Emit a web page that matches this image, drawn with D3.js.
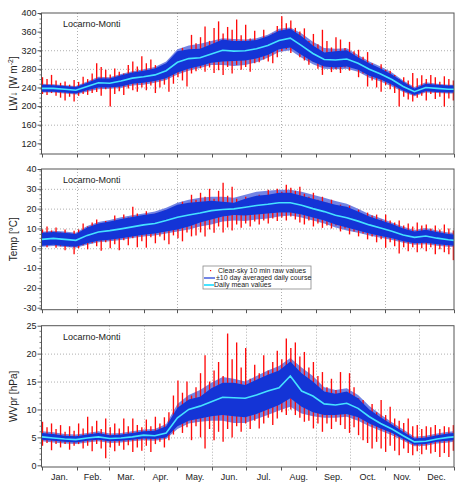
<!DOCTYPE html>
<html><head><meta charset="utf-8">
<script src="https://cdn.jsdelivr.net/npm/d3@7"></script>
<style>
body{margin:0;background:#fff;}
svg{display:block;font-family:"Liberation Sans",Arial,sans-serif;}
</style></head>
<body><svg id="c" width="474" height="484"></svg>
<script>
// ---------- categories ----------
const months = ["Jan.","Feb.","Mar.","Apr.","May.","Jun.","Jul.","Aug.","Sep.","Oct.","Nov.","Dec."];
const monthStart = [0,31,59,90,120,151,181,212,243,273,304,334,365];
const bandDays = [0,10,20,30,40,50,60,70,80,90,100,110,120,130,140,150,160,170,180,190,200,210,220,230,240,250,260,270,280,290,300,310,320,330,340,350,360,365];
const rawDays = [0,4,8,12,16,20,24,28,32,36,40,44,48,52,56,60,64,68,72,76,80,84,88,92,96,100,104,108,112,116,120,124,128,132,136,140,144,148,152,156,160,164,168,172,176,180,184,188,192,196,200,204,208,212,216,220,224,228,232,236,240,244,248,252,256,260,264,268,272,276,280,284,288,292,296,300,304,308,312,316,320,324,328,332,336,340,344,348,352,356,360,364];

// ---------- LW (top) ----------
const lwMean   = [238,238,236,234,242,250,249,254,260,263,267,276,294,302,304,312,320,318,319,323,330,341,346,330,313,300,299,301,292,279,269,257,242,231,240,238,236,236];
const lwDarkLo = [231,231,229,227,234,240,240,242,248,250,254,260,272,280,286,293,296,297,298,302,310,322,326,310,295,285,283,285,278,265,257,246,233,224,232,230,229,229];
const lwDarkHi = [246,245,243,241,250,260,259,266,272,276,281,292,318,322,323,333,343,340,340,342,350,362,366,350,330,315,318,320,305,292,281,268,252,238,248,246,244,244];
const lwLightLo= [229,229,227,225,231,236,237,239,244,246,250,256,268,276,282,288,288,286,288,294,304,316,320,304,290,280,279,280,274,261,253,242,230,221,229,228,227,227];
const lwLightHi= [248,247,245,243,253,263,262,269,275,279,284,296,322,330,334,340,346,344,343,346,353,366,369,356,338,325,323,324,310,296,285,272,255,241,251,248,246,246];
const lwRawHi  = [262,258,267,255,250,253,246,256,252,263,258,270,292,284,278,268,281,274,270,288,296,285,307,292,300,288,283,289,277,285,310,325,318,353,335,348,371,340,368,382,356,370,364,386,352,375,345,362,338,364,346,356,372,393,378,384,368,360,367,340,355,333,364,340,326,348,343,325,338,318,321,306,316,292,284,290,278,276,267,258,262,255,271,260,266,258,267,262,252,264,258,255];
const lwRawLo  = [226,224,228,222,218,212,220,210,222,226,224,228,230,222,236,199,226,232,224,238,234,231,240,234,244,228,240,246,231,248,262,255,242,270,275,281,274,283,271,277,267,284,270,288,278,284,274,292,294,300,296,292,305,318,322,314,325,305,298,289,295,280,267,285,273,279,271,283,276,282,262,270,242,255,240,231,245,236,228,199,220,214,210,218,222,212,226,215,220,199,216,212];

// ---------- Temp (middle) ----------
const tMean    = [4.5,5,4.5,4,6.5,8.2,8.9,9.8,10.8,11.8,12.5,14,15.7,16.8,17.8,19,19.6,19.9,20.7,21.6,22.2,23,23,21.7,20,18.5,16.7,15.4,13.7,11.8,10.2,8.6,6.7,5.5,6.2,5.1,4.3,4];
const tDarkLo  = [1.3,1.8,1.2,0.8,2.5,3.8,4.3,5,6,6.8,7.5,8.5,9.5,11,13,14.5,16,16.8,16.5,17,17.5,18,18,17,15.5,14,12,10.5,9,7.5,6.2,5,3.5,2.5,2.8,2,1.5,1.3];
const tDarkHi  = [7.8,8.2,7.8,7.2,10.5,12.5,13.5,14.8,15.8,16.8,17.5,19.5,22,23,23.5,24,23.5,23,25,26.5,27,28,28,26.5,25,23.5,22,21,18.5,16,14.2,12.2,10,8.5,9.4,8.2,7.2,7];
const tLightLo = [0.8,1.2,0.6,0.2,1.8,3,3.5,4.2,5.2,6,6.5,7.5,8.5,9.5,11,12,13.5,14,13.8,14.5,15,16,16.5,15.5,14,12.5,10.5,9,7.8,6.5,5.3,4.2,2.8,1.8,2,1.3,0.8,0.6];
const tLightHi = [8.3,8.8,8.4,7.8,11.2,13.3,14.3,15.6,16.6,17.6,18.5,20.5,23,24.5,25.5,26,26,25.5,27,28.5,29,29.5,29.5,28.5,27,25.5,23.8,22.5,20,17.2,15.2,13,10.8,9.2,10.2,9,8,7.8];
const tRawHi   = [9.5,11,9,10.5,8,9.5,7.5,8.8,9.5,12.5,11,13,14.5,12.5,13.8,12.8,16.5,14,17,15.5,21,17.5,16,18.7,15.5,17.5,16.5,19,17.5,18.7,21,23.5,20.5,27,24.5,28,26,30,25,29,33,26.5,31,25,24,26,23.5,25.5,27,25,29.5,27,30,28.5,32,30.5,29,31,27.5,26,28,24.5,26,23,24.5,21.5,22,19.5,21.5,18.5,19.5,17,18,16.5,17,14.5,17,14,13,14,11.5,12.5,11,13,11.5,12,10,11.5,9.5,12,10,9];
const tRawLo   = [1.5,0.5,2,0.3,1,-1,0.8,-3,0,1.5,-0.5,2.5,1,-1.3,3,0,2,-1,4,1.5,5,0.5,3.5,0.3,5.5,2.5,6,4,2,6.5,5,3.5,8,6,6.5,8,6,9.5,7.8,11,8,10.5,9,12,10.3,12.5,11,13.5,12,14,12.5,15,13.7,15.5,14,16,14.5,13,12,14,11,12.5,10.3,11.5,10,11.5,8.5,10,7,8.5,6,7.5,4.5,6,3,4.5,0.3,3,1,-2.7,0.5,-1.5,0.5,-2,0,-1.5,0.5,-3,-0.5,-2,-3,-6];

// ---------- WVpr (bottom) ----------
const wMean    = [5.1,4.9,4.7,4.6,4.9,5.1,4.8,4.9,5.1,5.4,5.3,5.8,8.5,10,10.6,11.4,12.2,12.1,12,12.6,13.3,13.9,16,13.3,12.4,11,10.8,11.1,10.2,8.7,7.5,6.5,5.3,4.2,4.3,4.7,5,5.1];
const wDarkLo  = [4.6,4.4,4.2,4.1,4.4,4.6,4.3,4.4,4.6,4.8,4.7,5,7,8,8.4,8.8,9,8.8,8.6,9.2,10,10.8,12,10.5,9.5,9,9,9.2,8.6,7.5,6.6,5.8,4.7,3.7,3.8,4.2,4.4,4.5];
const wDarkHi  = [5.8,5.6,5.3,5.2,5.5,5.8,5.4,5.5,5.8,6.1,6.2,7,10.3,11.8,12.3,13.8,14.8,14.8,14.4,15.3,16.2,17,18.6,16.5,15,13.2,12.8,13.2,12,10,8.6,7.3,6,4.8,5,5.4,5.7,5.8];
const wLightLo = [4.3,4.1,3.9,3.8,4.1,4.3,4,4.1,4.3,4.5,4.4,4.7,6.5,7.5,7.8,8,8,7.6,7.6,8.3,9,9.8,10.5,9.3,8.8,8.5,8.5,8.7,8,7,6.2,5.4,4.4,3.4,3.5,3.9,4.1,4.2];
const wLightHi = [6.1,5.9,5.6,5.5,5.8,6.1,5.7,5.8,6.1,6.4,6.5,7.4,11,12.6,13.5,14.8,15.8,15.5,15,16,17,17.8,19.2,17.5,16,14,13.5,13.8,12.6,10.6,9.1,7.7,6.4,5.1,5.3,5.7,6,6.1];
const wRawHi   = [7.8,6.8,7.5,6.5,7.2,6,7,6.2,7.5,6.6,8.7,7,8,6.5,8.4,6.8,7.5,6.6,8.4,7,8.4,7.2,6.8,8.2,7,8.7,7.5,8.6,9.5,12.5,15.2,13,15,12.5,14,16.5,19.7,15,17,18.5,16,23.6,19,22,17.5,21,15.5,18,16.5,19.7,17,18.5,20.5,19,22.7,21,22,19.5,20.3,17.5,18.5,16,16.7,14,15.5,13.5,16.7,13,16.5,14,12,11.7,10,11,9.5,11.7,9,10.5,8.4,8,7.6,8.4,7,7.2,6.5,7,6.8,7.2,6.5,7,6.8,7.2];
const wRawLo   = [3.5,4,2.7,3.8,3.2,3.8,2.8,3.5,3.8,3,3.5,2.5,3.8,3,1.25,3.2,2.5,3.5,2.8,3.6,2.4,3.2,2.6,3.5,2.4,3.8,4.2,3.2,4.5,5.5,7.2,5.8,6.8,4.5,7,5,3,6.5,4.5,6,4.2,6.5,5,7,6,7.5,6.5,8,6.6,7.5,8.5,7.2,8.4,9.5,9,10,9,8.5,7.8,8,6.6,7.5,6,7.5,6.5,7.8,7.2,6.5,5.8,6.8,5.4,4.5,4,3,4.2,3,2.4,3.5,2.6,1.8,3,2.2,1.8,2.5,2,2.8,2.1,2.4,1.5,2.2,1.5,2.6];

// ---------- tick labels ----------
const lwTicks = [120,160,200,240,280,320,360,400];
const tTicks  = [-30,-20,-10,0,10,20,30,40];
const wTicks  = [0,5,10,15,20,25];
const legItems = ["Clear-sky 10 min raw values","\u00B110 day averaged daily course","Daily mean values"];

const svg = d3.select("#c");
const x = d3.scaleLinear().domain([0,365]).range([42,454]);

const C = {red:"#ff0a0a", dark:"#1434d6", light:"#7384e4", cyan:"#45e2ff", frame:"#555", grid:"#9a9a9a", text:"#222"};

function panel(o){
  const y = d3.scaleLinear().domain(o.domain).range([o.bottom,o.top]);
  const g = svg.append("g");
  g.selectAll(".hg").data(o.hgrid).join("line")
    .attr("x1",x(0)).attr("x2",x(365)).attr("y1",d=>y(d)+0.5).attr("y2",d=>y(d)+0.5)
    .attr("stroke",C.grid).attr("stroke-width",0.8).attr("stroke-dasharray","1,2");
  g.selectAll(".vg").data(o.vgrid).join("line")
    .attr("x1",d=>Math.round(x(monthStart[d]))+0.5).attr("x2",d=>Math.round(x(monthStart[d]))+0.5)
    .attr("y1",o.top).attr("y2",o.bottom)
    .attr("stroke",C.grid).attr("stroke-width",0.8).attr("stroke-dasharray","1,2");
  const area = (lo,hi)=>d3.area().x((d,i)=>x(bandDays[i])).y0((d,i)=>y(lo[i])).y1((d,i)=>y(hi[i]));
  g.append("path").datum(bandDays).attr("d",area(o.lightLo,o.lightHi)).attr("fill",C.light);
  g.selectAll(".raw").data(rawDays).join("line")
    .attr("x1",d=>x(d)+0.5).attr("x2",d=>x(d)+0.5)
    .attr("y1",(d,i)=>y(o.rawLo[i])).attr("y2",(d,i)=>y(o.rawHi[i]))
    .attr("stroke",C.red).attr("stroke-width",1.35);
  g.append("path").datum(bandDays).attr("d",area(o.darkLo,o.darkHi)).attr("fill",C.dark);
  g.append("path").datum(o.mean)
    .attr("d",d3.line().x((d,i)=>x(bandDays[i])).y(d=>y(d)))
    .attr("fill","none").attr("stroke",C.cyan).attr("stroke-width",1.6);
  g.append("rect").attr("x",x(0)-0.5).attr("y",o.top).attr("width",x(365)-x(0)+0.5).attr("height",o.bottom-o.top)
    .attr("fill","none").attr("stroke",C.frame).attr("stroke-width",1);
  const ya = d3.axisLeft(y).tickValues(o.ticks).tickSize(4).tickSizeOuter(0).tickFormat(d3.format("d"));
  const ag = g.append("g").attr("transform",`translate(${x(0)-0.5},0)`).call(ya);
  ag.select(".domain").remove();
  ag.selectAll("line").attr("stroke",C.frame);
  ag.selectAll("text").attr("font-size",9).attr("fill",C.text).attr("x",-5)
    .text(d=>String(d).replace("\u2212","-"));
  const minors = d3.range(o.domain[0],o.domain[1]+0.001,o.minor).map(v=>Math.round(v)).filter(v=>v>=o.domain[0] && !o.ticks.includes(v));
  g.selectAll(".mt").data(minors).join("line")
    .attr("x1",x(0)-2.5).attr("x2",x(0)-0.5).attr("y1",d=>y(d)).attr("y2",d=>y(d))
    .attr("stroke",C.frame).attr("stroke-width",0.8);
  g.selectAll(".xt").data(monthStart).join("line")
    .attr("x1",d=>Math.round(x(d))+0.5).attr("x2",d=>Math.round(x(d))+0.5)
    .attr("y1",o.bottom).attr("y2",o.bottom+3.5).attr("stroke",C.frame);
  g.append("text").attr("x",63).attr("y",o.top+14).attr("font-size",9).attr("fill",C.text).text("Locarno-Monti");
  const t = g.append("text").attr("transform",`translate(17,${(o.top+o.bottom)/2}) rotate(-90)`)
    .attr("text-anchor","middle").attr("font-size",10).attr("fill",C.text);
  o.title(t);
  return {y,g};
}

panel({top:13,bottom:154,domain:[97,400],ticks:lwTicks,minor:10,hgrid:[160,200,240,280,320],vgrid:[1,4,7,10],
  mean:lwMean,darkLo:lwDarkLo,darkHi:lwDarkHi,lightLo:lwLightLo,lightHi:lwLightHi,rawHi:lwRawHi,rawLo:lwRawLo,
  title:t=>{t.append("tspan").text("LW\u2193 [W m");t.append("tspan").attr("font-size",7).attr("dy",-4).text("-2");t.append("tspan").attr("dy",4).text("]");}});

panel({top:169,bottom:309.7,domain:[-31,40],ticks:tTicks,minor:2,hgrid:[0,10,20,30],vgrid:[1,4,7,10],
  mean:tMean,darkLo:tDarkLo,darkHi:tDarkHi,lightLo:tLightLo,lightHi:tLightHi,rawHi:tRawHi,rawLo:tRawLo,
  title:t=>t.text("Temp [\u00B0C]")});

panel({top:325.7,bottom:467,domain:[-0.3,25],ticks:wTicks,minor:1,hgrid:[5,10,15,20],vgrid:[2,3,5,6,8,9,11],
  mean:wMean,darkLo:wDarkLo,darkHi:wDarkHi,lightLo:wLightLo,lightHi:wLightHi,rawHi:wRawHi,rawLo:wRawLo,
  title:t=>t.text("WVpr [hPa]")});

svg.selectAll(".ml").data(months).join("text")
  .attr("x",(d,i)=>x((monthStart[i]+monthStart[i+1])/2)).attr("y",480)
  .attr("text-anchor","middle").attr("font-size",9).attr("fill",C.text).text(d=>d);

// legend
const lg = svg.append("g").attr("transform","translate(203,266)");
lg.append("rect").attr("x",0).attr("y",0).attr("width",108).attr("height",23).attr("fill","#fff").attr("stroke","#888").attr("stroke-width",0.8);
lg.selectAll("text").data(legItems).join("text")
  .attr("x",(d,i)=>[15,13,11][i]).attr("y",(d,i)=>7+i*7.2).attr("font-size",7).attr("fill",C.text).text(d=>d);
lg.append("rect").attr("x",7).attr("y",4).attr("width",1.2).attr("height",1.2).attr("fill",C.red);
lg.append("line").attr("x1",1).attr("x2",12).attr("y1",12).attr("y2",12).attr("stroke",C.dark).attr("stroke-width",1.2);
lg.append("line").attr("x1",1).attr("x2",11).attr("y1",19).attr("y2",19).attr("stroke",C.cyan).attr("stroke-width",2);
</script></body></html>
